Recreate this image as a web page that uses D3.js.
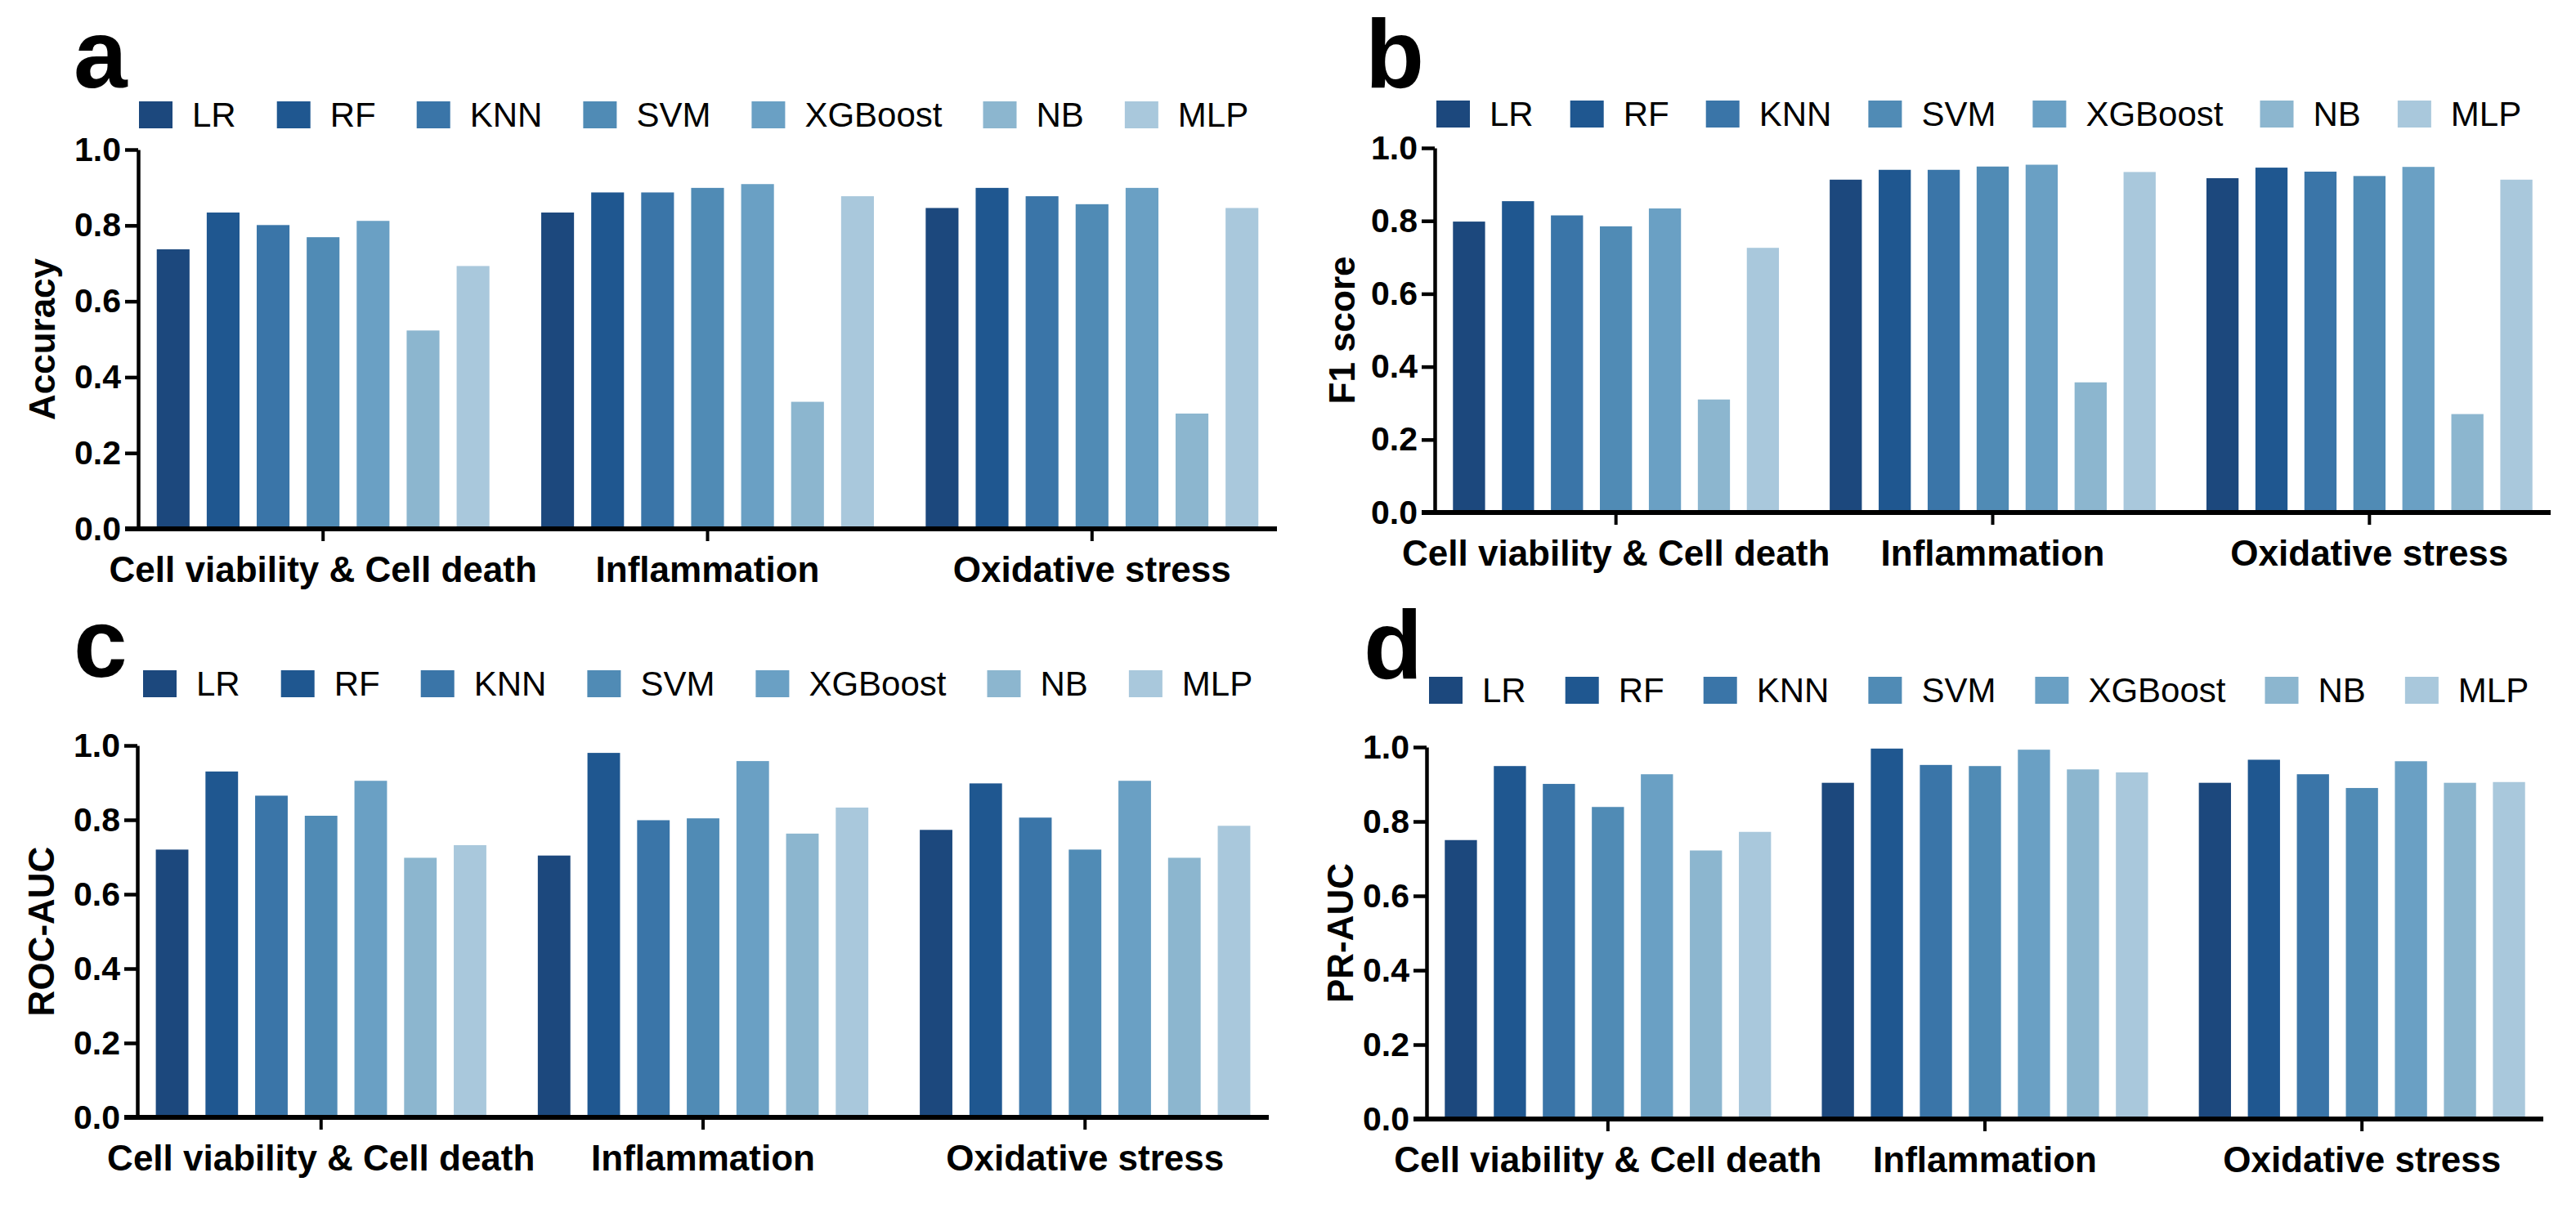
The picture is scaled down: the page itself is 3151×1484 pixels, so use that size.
<!DOCTYPE html>
<html>
<head>
<meta charset="utf-8">
<script src="https://cdn.jsdelivr.net/npm/d3@7"></script>
<style>
  body { margin: 0; background: #fff; }
  svg { display: block; font-family: "Liberation Sans", Arial, sans-serif; }
</style>
</head>
<body>
<svg id="chart" width="3151" height="1484"></svg>
<script>
/* Categories and models. */
const categories = ["Cell viability & Cell death", "Inflammation", "Oxidative stress"]
const models = ["LR", "RF", "KNN", "SVM", "XGBoost", "NB", "MLP"]
const colors = ["#1c487d", "#1f5790", "#3a75a8", "#508bb5", "#6aa0c4", "#8cb6cf", "#a9c8dc"]
const yTicks = [0, 0.2, 0.4, 0.6, 0.8, 1.0]

/* Values, one row per category, one value per model. */
const accuracy = [
  [0.737, 0.834, 0.801, 0.769, 0.812, 0.523, 0.693],
  [0.834, 0.887, 0.887, 0.899, 0.909, 0.335, 0.877],
  [0.846, 0.899, 0.877, 0.856, 0.899, 0.304, 0.846]
]
const f1Score = [
  [0.798, 0.854, 0.815, 0.785, 0.834, 0.310, 0.726],
  [0.913, 0.940, 0.940, 0.949, 0.954, 0.357, 0.934],
  [0.917, 0.946, 0.935, 0.923, 0.948, 0.270, 0.913]
]
const rocAuc = [
  [0.720, 0.930, 0.865, 0.811, 0.905, 0.698, 0.732],
  [0.704, 0.980, 0.799, 0.804, 0.958, 0.763, 0.833],
  [0.773, 0.898, 0.806, 0.720, 0.905, 0.698, 0.784]
]
const prAuc = [
  [0.750, 0.949, 0.901, 0.839, 0.927, 0.722, 0.772],
  [0.904, 0.996, 0.952, 0.949, 0.993, 0.940, 0.932],
  [0.904, 0.966, 0.927, 0.890, 0.962, 0.904, 0.906]
]

/* Panel layout (pixels). */
const panels = [
  { letter: "a", title: "Accuracy", values: accuracy, left: 169, right: 1562, top: 183, bottom: 647,
    letterX: 90, letterY: 107, legendX: 170, legendY: 124, legendGap: 50, titleX: 67 },
  { letter: "b", title: "F1 score", values: f1Score, left: 1755, right: 3120, top: 181, bottom: 627,
    letterX: 1670, letterY: 107, legendX: 1757, legendY: 123, legendGap: 45, titleX: 1657 },
  { letter: "c", title: "ROC-AUC", values: rocAuc, left: 168, right: 1552, top: 912, bottom: 1367,
    letterX: 90, letterY: 828, legendX: 175, legendY: 820, legendGap: 50, titleX: 66 },
  { letter: "d", title: "PR-AUC", values: prAuc, left: 1745, right: 3111, top: 914, bottom: 1369,
    letterX: 1668, letterY: 830, legendX: 1748, legendY: 828, legendGap: 48, titleX: 1655 }
]

const svg = d3.select("#chart")

panels.forEach(p => {
  const g = svg.append("g")

  /* Scales. */
  const x0 = d3.scaleBand()
    .domain(categories)
    .range([p.left, p.right])
    .paddingInner(0.09)
    .paddingOuter(0.026)

  const x1 = d3.scaleBand()
    .domain(models)
    .range([0, x0.bandwidth()])
    .paddingInner(0.344)
    .paddingOuter(0.172)

  const y = d3.scaleLinear()
    .domain([0, 1])
    .range([p.bottom, p.top])

  /* Bars. */
  const groups = g.selectAll(".grp")
    .data(categories)
    .join("g")
    .attr("transform", c => `translate(${x0(c)},0)`)

  groups.selectAll("rect")
    .data((c, ci) => models.map((m, mi) => ({ model: m, value: p.values[ci][mi], color: colors[mi] })))
    .join("rect")
    .attr("x", d => x1(d.model))
    .attr("width", x1.bandwidth())
    .attr("y", d => y(d.value))
    .attr("height", d => y(0) - y(d.value))
    .attr("fill", d => d.color)

  /* Y axis. */
  const yAxis = d3.axisLeft(y)
    .tickValues(yTicks)
    .tickFormat(d3.format(".1f"))
    .tickSize(16)
    .tickSizeOuter(0)
    .tickPadding(5)

  const ya = g.append("g")
    .attr("transform", `translate(${p.left},0)`)
    .call(yAxis)
  ya.select(".domain").attr("stroke", "#000").attr("stroke-width", 4.5)
  ya.selectAll(".tick line").attr("stroke", "#000").attr("stroke-width", 4.5)
  ya.selectAll(".tick text")
    .attr("font-size", 41)
    .attr("font-weight", "bold")
    .attr("font-family", "Liberation Sans, Arial, sans-serif")
    .attr("fill", "#000")

  /* X axis. */
  const xAxis = d3.axisBottom(x0)
    .tickSize(15)
    .tickSizeOuter(0)
    .tickPadding(0)
    .tickFormat("")

  const xa = g.append("g")
    .attr("transform", `translate(0,${p.bottom})`)
    .call(xAxis)
  xa.select(".domain")
    .attr("d", `M${p.left - 16},0H${p.right}`)
    .attr("stroke", "#000")
    .attr("stroke-width", 6)
  xa.selectAll(".tick line").attr("stroke", "#000").attr("stroke-width", 4)

  /* Category labels. */
  g.selectAll(".cat")
    .data(categories)
    .join("text")
    .attr("x", c => x0(c) + x0.bandwidth() / 2)
    .attr("y", p.bottom + 65)
    .attr("text-anchor", "middle")
    .attr("font-size", 44)
    .attr("font-weight", "bold")
    .text(c => c)

  /* Y axis title. */
  g.append("text")
    .attr("transform", `translate(${p.titleX},${(p.top + p.bottom) / 2}) rotate(-90)`)
    .attr("text-anchor", "middle")
    .attr("font-size", 44)
    .attr("font-weight", "bold")
    .text(p.title)

  /* Panel letter. */
  g.append("text")
    .attr("x", p.letterX)
    .attr("y", p.letterY)
    .attr("font-size", 118)
    .attr("font-weight", "bold")
    .text(p.letter)

  /* Legend. */
  let lx = p.legendX
  models.forEach((m, i) => {
    g.append("rect")
      .attr("x", lx)
      .attr("y", p.legendY)
      .attr("width", 41)
      .attr("height", 33)
      .attr("fill", colors[i])
    const t = g.append("text")
      .attr("x", lx + 65)
      .attr("y", p.legendY + 31)
      .attr("font-size", 42)
      .text(m)
    lx += 65 + t.node().getComputedTextLength() + p.legendGap
  })
})
</script>
</body>
</html>
